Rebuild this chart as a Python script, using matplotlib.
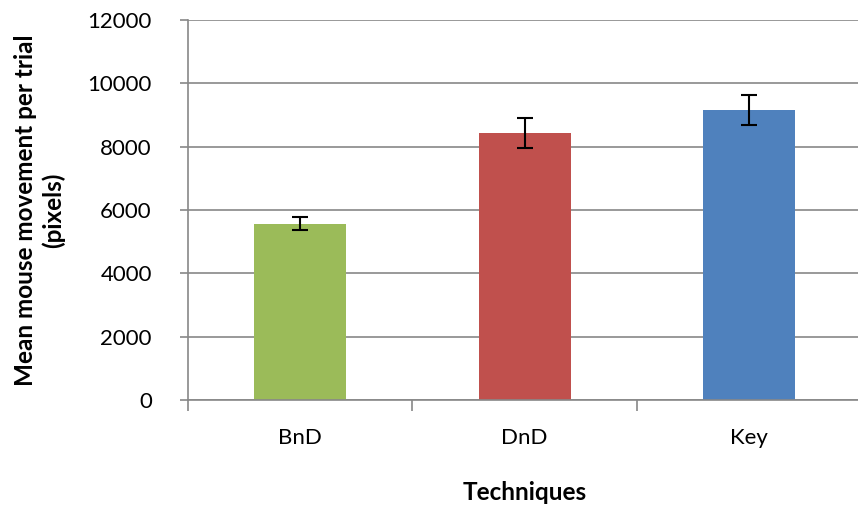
import numpy as np
import matplotlib
matplotlib.use("Agg")
import matplotlib.pyplot as plt

techniques = ["BnD", "DnD", "Key"]
means = [5570, 8430, 9150]
errors = [200, 465, 470]
colors = ["#9BBB59", "#C0504D", "#4F81BD"]
yticks = [0, 2000, 4000, 6000, 8000, 10000, 12000]

plt.rcParams['font.family'] = ['Lato', 'DejaVu Sans']

fig = plt.figure(figsize=(8.58, 5.11), dpi=100)
ax = fig.add_axes([0.219, 0.217, 0.785, 0.744])

x = np.arange(len(techniques))
ax.bar(x, means, width=0.41, color=colors, zorder=2)
ax.errorbar(x, means, yerr=errors, fmt="none", ecolor="black",
            elinewidth=1.5, capsize=6, capthick=1.5, zorder=3)

ax.set_ylim(0, 12000)
ax.set_xlim(-0.5, 2.5)
ax.set_yticks(yticks)
ax.set_yticklabels([str(v) for v in yticks], fontsize=16)
ax.grid(axis="y", color="#888888", linewidth=1.2, zorder=0)

# category labels in the middle, ticks on the boundaries
ax.set_xticks(x)
ax.set_xticklabels(techniques, fontsize=16)
ax.tick_params(axis="x", length=0, pad=20)
ax.set_xticks([-0.5, 0.5, 1.5, 2.5], minor=True)
ax.tick_params(axis="x", which="minor", length=8, color="#888888", width=1.2)
ax.tick_params(axis="y", length=6, color="#888888", width=1.2, pad=20)

for s in ["top", "right"]:
    ax.spines[s].set_visible(False)
for s in ["left", "bottom"]:
    ax.spines[s].set_color("#888888")
    ax.spines[s].set_linewidth(1.2)

ax.set_xlabel("Techniques", fontsize=17.5, fontweight="bold", labelpad=24)
ax.set_ylabel("Mean mouse movement per trial\n(pixels)", fontsize=17.5,
              fontweight="bold", labelpad=16, linespacing=1.25)

fig.savefig("out.png", dpi=100)
